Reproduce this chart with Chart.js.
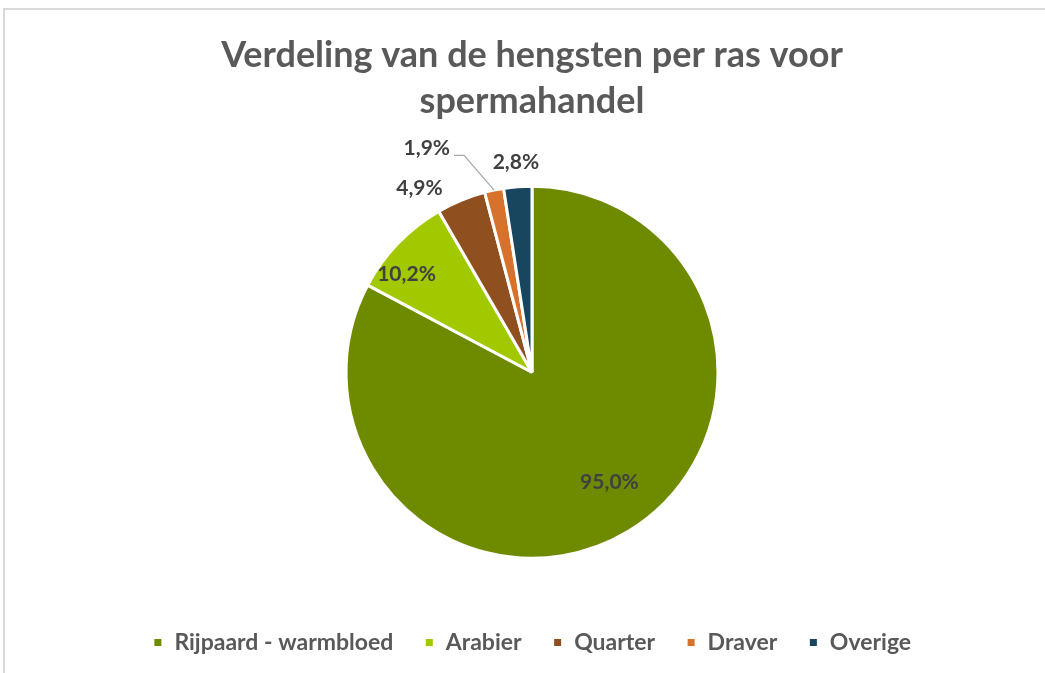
<!DOCTYPE html>
<html>
<head>
<meta charset="utf-8">
<script src="https://cdn.jsdelivr.net/npm/chart.js@4"></script>
<style>
  html, body { margin:0; padding:0; background:#fff; overflow:hidden; }
  #frame { position:absolute; left:3px; top:8px; width:1200px; height:800px; border-top:2px solid #d9d9d9; border-left:2px solid #d9d9d9; }
  #wrap { position:absolute; left:0; top:10px; width:1064px; height:654px; }
</style>
</head>
<body>
<div id="frame"></div>
<div id="wrap"><canvas id="chart"></canvas></div>
<script>
const categories = ["Rijpaard - warmbloed", "Arabier", "Quarter", "Draver", "Overige"];
const percentages = [95.0, 10.2, 4.9, 1.9, 2.8];
const titleLines = ["Verdeling van de hengsten per ras voor", "spermahandel"];

const colors = ["#6E8B00", "#A2C800", "#8F4F1F", "#D7722C", "#17465E"];
// label placement: angle shift (deg) from slice middle, distance as fraction of radius
const labelPlace = [
  {shift:-4, dist:0.725},
  {shift:-6, dist:0.855},
  {shift:-9, dist:1.16},
  {shift:-13.4, dist:1.33, leader:true},
  {shift:0, dist:1.13}
];

const fmt = v => v.toFixed(1).replace(".", ",") + "%";

const pieLabels = {
  id: "pieLabels",
  afterDatasetsDraw(chart){
    const ctx = chart.ctx;
    const arcs = chart.getDatasetMeta(0).data;
    ctx.save();
    ctx.font = "bold 21px Lato";
    ctx.fillStyle = "#404040";
    ctx.textAlign = "center";
    ctx.textBaseline = "middle";
    arcs.forEach((arc, i) => {
      const p = labelPlace[i];
      const mid = (arc.startAngle + arc.endAngle) / 2;
      const a = mid + p.shift * Math.PI / 180;
      const r = arc.outerRadius * p.dist;
      const x = arc.x + Math.cos(a) * r;
      const y = arc.y + Math.sin(a) * r;
      const txt = fmt(percentages[i]);
      if (p.leader) {
        const w = ctx.measureText(txt).width;
        ctx.beginPath();
        ctx.strokeStyle = "#a6a6a6";
        ctx.lineWidth = 1.2;
        ctx.moveTo(x + w / 2 + 4, y + 7);
        ctx.lineTo(x + w / 2 + 14, y + 7);
        ctx.lineTo(arc.x + Math.cos(mid) * arc.outerRadius, arc.y + Math.sin(mid) * arc.outerRadius);
        ctx.stroke();
      }
      ctx.fillText(txt, x, y);
    });
    ctx.restore();
  }
};

new Chart(document.getElementById("chart"), {
  type: "pie",
  data: {
    labels: categories,
    datasets: [{
      data: percentages,
      backgroundColor: colors,
      borderColor: "#ffffff",
      borderWidth: 3,
      radius: 186
    }]
  },
  options: {
    responsive: true,
    maintainAspectRatio: false,
    animation: false,
    layout: { padding: 0 },
    plugins: {
      title: {
        display: true,
        text: titleLines,
        color: "#595959",
        font: { family: "Lato", size: 36, weight: "bold", lineHeight: 1.3 },
        padding: { top: 21.6, bottom: 19.3 }
      },
      legend: {
        position: "bottom",
        labels: {
          color: "#595959",
          font: { family: "Lato", size: 23, weight: "bold" },
          boxWidth: 10,
          boxHeight: 10,
          padding: 31
        }
      },
      tooltip: { enabled: false }
    }
  },
  plugins: [pieLabels]
});
</script>
</body>
</html>
